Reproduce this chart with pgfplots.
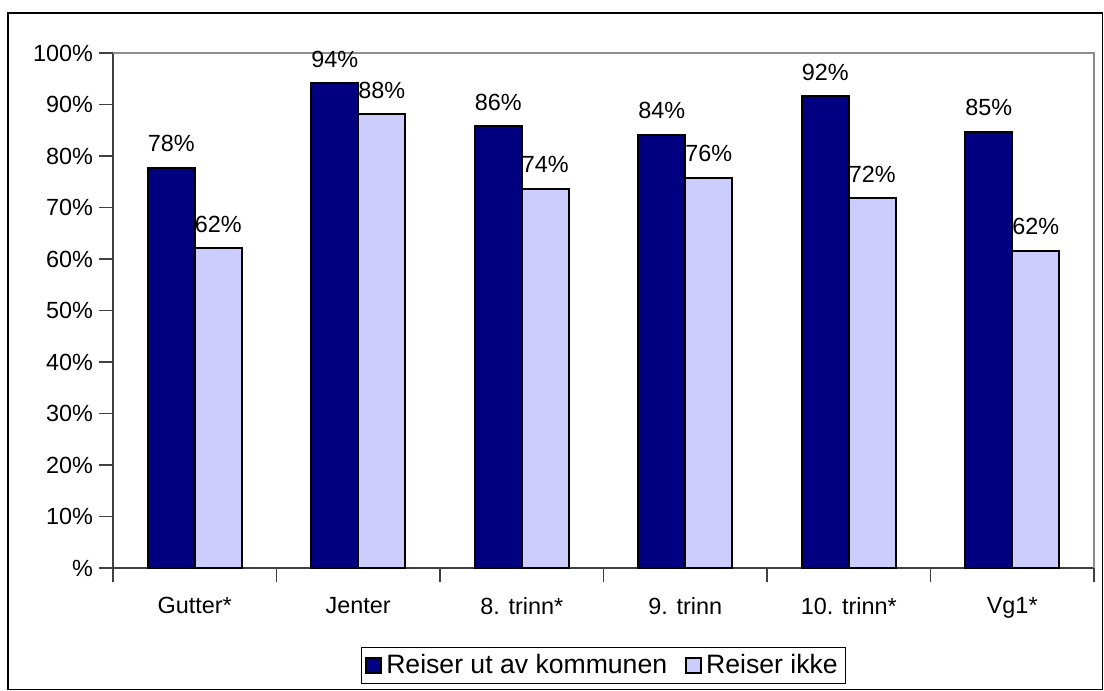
\documentclass[border=0pt]{standalone}
\usepackage{pgfplots}
\pgfplotsset{compat=1.18}
\usepackage{fontspec}
\setmainfont{Liberation Sans}
\definecolor{darkbar}{HTML}{000080}
\definecolor{lightbar}{HTML}{CCCCFF}
\definecolor{axdark}{HTML}{404040}
\definecolor{axlight}{HTML}{8C8C8C}
\newcommand\cf{\fontsize{11.7pt}{14pt}\selectfont}
\newcommand\lf{\fontsize{13.3pt}{15.5pt}\selectfont}
\begin{document}
\begin{tikzpicture}[x=1pt,y=1pt]
\useasboundingbox (-56.5,-61.5) rectangle (495.5,284);
\draw[black,line width=0.7pt] (-52.5,-60.8) rectangle (494.8,277.5);
\begin{axis}[
  at={(0,0)}, anchor=south west,
  scale only axis, width=490.5pt, height=257.5pt,
  xmin=-0.5, xmax=5.5, ymin=0, ymax=100,
  clip=false,
  /pgf/number format/assume math mode=true,
  axis x line*=bottom, axis y line*=left,
  axis line style={axdark, line width=0.9pt, -},
  xtick={0,1,2,3,4,5},
  xticklabels={Gutter*,Jenter,8. trinn*,9. trinn,10. trinn*,Vg1*},
  major x tick style={draw=none},
  minor xtick={-0.5,0.5,1.5,2.5,3.5,4.5,5.5},
  minor x tick style={axdark, line width=0.8pt},
  minor tick length=7pt,
  ytick={0,10,...,100},
  yticklabels={\%,10\%,20\%,30\%,40\%,50\%,60\%,70\%,80\%,90\%,100\%},
  major tick length=7pt,
  y tick style={axdark, line width=0.8pt},
  tick align=outside,
  tick label style={font=\cf},
  xticklabel style={yshift=-4pt},
  yticklabel style={xshift=0.5pt},
  ybar=0pt, bar width=23.5pt,
  nodes near coords={\pgfmathprintnumber[fixed,precision=0]{\pgfplotspointmeta}\%},
  every node near coord/.append style={font=\cf, anchor=base, yshift=8pt, inner sep=0pt, black},
  legend style={at={(0.5,0)}, anchor=north, yshift=-39.5pt, legend columns=2,
    draw=black, line width=0.6pt, font=\lf, inner xsep=2pt, inner ysep=1.5pt,
    /tikz/every even column/.append style={column sep=7pt}},
  legend cell align=left,
  legend image code/.code={\draw[#1] (0pt,-3.75pt) rectangle (7.5pt,3.75pt);},
]
\addplot[fill=darkbar, draw=black, line width=1pt] coordinates {(0,77.7) (1,94.1) (2,85.8) (3,84.1) (4,91.6) (5,84.7)};
\addplot[fill=lightbar, draw=black, line width=1pt] coordinates {(0,62.1) (1,88.1) (2,73.6) (3,75.8) (4,71.8) (5,61.6)};
\legend{Reiser ut av kommunen,Reiser ikke}
\draw[axlight, line width=0.9pt] (rel axis cs:0,1) -- (rel axis cs:1,1) -- (rel axis cs:1,0);
\end{axis}
\end{tikzpicture}
\end{document}
